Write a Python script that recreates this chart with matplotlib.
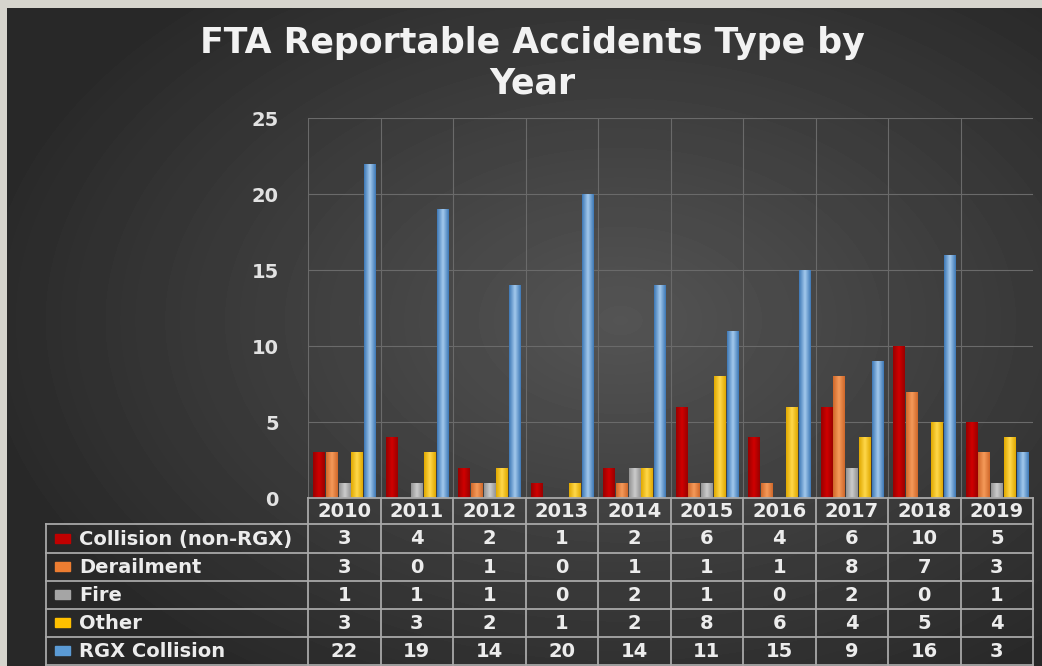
import numpy as np
import matplotlib.pyplot as plt
from matplotlib.transforms import blended_transform_factory
from matplotlib.colors import LinearSegmentedColormap

years = ["2010", "2011", "2012", "2013", "2014", "2015", "2016", "2017", "2018", "2019"]
series = ["Collision (non-RGX)", "Derailment", "Fire", "Other", "RGX Collision"]
collision = [3, 4, 2, 1, 2, 6, 4, 6, 10, 5]
derailment = [3, 0, 1, 0, 1, 1, 1, 8, 7, 3]
fire = [1, 1, 1, 0, 2, 1, 0, 2, 0, 1]
other = [3, 3, 2, 1, 2, 8, 6, 4, 5, 4]
rgx = [22, 19, 14, 20, 14, 11, 15, 9, 16, 3]
values = [collision, derailment, fire, other, rgx]

# (edge colour, centre colour) for the bar gradients
colors = [("#9a0000", "#d00000"), ("#d0682a", "#f59a5a"), ("#939393", "#cccccc"),
          ("#e0a800", "#ffd84a"), ("#3d78b6", "#a3c9ec")]
key_colors = ["#c00000", "#ed7d31", "#a5a5a5", "#ffc000", "#5b9bd5"]

W, H = 1042, 666
fig = plt.figure(figsize=(W / 100, H / 100), dpi=100)
fig.patch.set_facecolor("#d6d4cd")

# background panel with radial gradient
bg = fig.add_axes([0, 0, 1, 1], zorder=0)
bg.set_xlim(0, W)
bg.set_ylim(H, 0)
bg.axis("off")
yy, xx = np.mgrid[0:H, 0:W]
r = np.sqrt(((xx - 620) / 650.0) ** 2 + ((yy - 320) / 430.0) ** 2)
shade = np.clip(1 - r, 0, 1)
img = 0.16 + 0.17 * shade
bg.imshow(img[8:, 7:], cmap="gray", vmin=0, vmax=1,
          extent=(7, W, H, 8), aspect="auto", interpolation="bilinear")

# main chart
ax = fig.add_axes([308 / W, 1 - 498 / H, 725 / W, 380 / H], zorder=2)
ax.patch.set_alpha(0)
n = len(years)
x = np.arange(n)
bw = 0.158
for i, vals in enumerate(values):
    cmap = LinearSegmentedColormap.from_list("g", [colors[i][0], colors[i][1], colors[i][0]])
    offs = (i - 2) * 0.176
    bars = ax.bar(x + offs, vals, width=bw, color=key_colors[i], zorder=3)
    grad = np.linspace(0, 1, 64).reshape(1, -1)
    for b in bars:
        if b.get_height() <= 0:
            continue
        bx, by = b.get_x(), b.get_y()
        im = ax.imshow(grad, cmap=cmap, aspect="auto", zorder=4,
                       extent=(bx, bx + b.get_width(), by, by + b.get_height()))
        im.set_clip_path(b)

ax.set_xlim(-0.5, n - 0.5)
ax.set_ylim(0, 25)
ax.set_yticks([0, 5, 10, 15, 20, 25])
ax.set_xticks(x - 0.5, minor=False)
ax.set_xticklabels([])
ax.tick_params(axis="x", length=0)
ax.tick_params(axis="y", length=0, pad=21, labelsize=14, labelcolor="#e2e2e2")
for lab in ax.get_yticklabels():
    lab.set_fontweight("bold")
ax.grid(True, color="#6a6a6a", linewidth=0.8, zorder=0)
for s in ax.spines.values():
    s.set_visible(False)

fig.text(532 / W, 1 - 63 / H, "FTA Reportable Accidents Type by\nYear", ha="center",
         va="center", color="#f2f2f2", fontsize=25, fontweight="bold",
         family="DejaVu Sans", linespacing=1.25)

# data table below the chart
tb = fig.add_axes([0, 0, 1, 1], zorder=3)
tb.set_xlim(0, W)
tb.set_ylim(H, 0)
tb.axis("off")
tr = blended_transform_factory(ax.transData, tb.transData)
line_c = "#a8a8a8"
rows_y = [498, 524, 553, 581, 609, 637, 665]
x0, x1 = 46, 1033
for k, yv in enumerate(rows_y):
    tb.plot([308 if k == 0 else x0, x1], [yv, yv], color=line_c, lw=1.3)
tb.plot([x0, x0], [524, 665], color=line_c, lw=1.3)
for j in range(n + 1):
    tb.plot([j - 0.5, j - 0.5], [498, 665], color=line_c, lw=1.3, transform=tr)

txt = dict(color="#ececec", fontsize=14, fontweight="bold", ha="center", va="center",
           family="DejaVu Sans")
for j, yr in enumerate(years):
    tb.text(j, 511.5, yr, transform=tr, **txt)
for i, name in enumerate(series):
    yc = (rows_y[i + 1] + rows_y[i + 2]) / 2
    tb.add_patch(plt.Rectangle((55, yc - 5), 15, 9, color=key_colors[i]))
    tb.text(79, yc + 0.5, name, color="#ececec", fontsize=14, fontweight="bold",
            ha="left", va="center", family="DejaVu Sans")
    for j in range(n):
        tb.text(j, yc + 0.5, str(values[i][j]), transform=tr, **txt)

fig.savefig("out.png", dpi=100, facecolor=fig.get_facecolor())
